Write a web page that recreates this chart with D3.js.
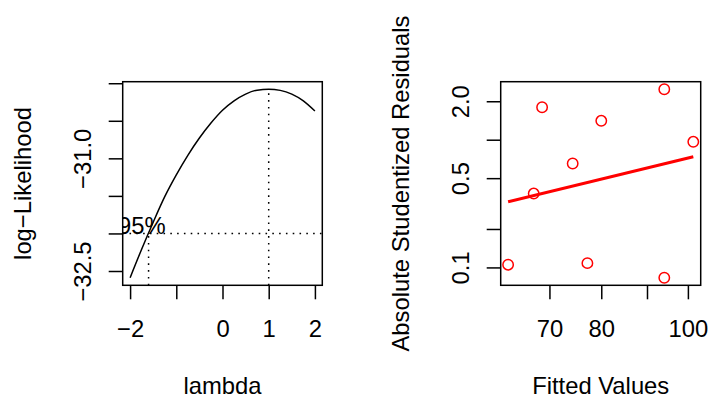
<!DOCTYPE html>
<html><head><meta charset="utf-8">
<script src="https://cdn.jsdelivr.net/npm/d3@7"></script>
<style>
body{margin:0;background:#fff;}
svg text{font-family:"Liberation Sans",Arial,Helvetica,sans-serif;font-size:23.8px;fill:#000;}
</style></head><body>
<svg id="chart" width="711" height="397"></svg>
<script>
// ---------- data: left panel (Box-Cox profile log-likelihood) ----------
const lambdas = [-2,-1.75,-1.5,-1.25,-1,-0.75,-0.5,-0.25,0,0.25,0.5,0.75,1,1.25,1.5,1.75,2];
const logLik  = [-32.59,-32.21,-31.85,-31.51,-31.22,-30.96,-30.73,-30.53,-30.36,-30.235,-30.145,-30.092,-30.08,-30.095,-30.145,-30.235,-30.37];
const lambdaHat = 1.0;
const ci95Lower = -1.6;
const lim95 = -32.0;
const lambdaTicks = [-2,-1,0,1,2];
const lambdaTickLabels = ["\u22122","","0","1","2"];
const logLikTicks = [-32.5,-32,-31.5,-31,-30.5,-30];
const logLikTickLabels = ["\u221232.5","","","\u221231.0","",""];

// ---------- data: right panel (spread-level plot) ----------
const fitted     = [62.93,67.22,68.69,74.32,77.19,80.0,94.1,94.1,101.4];
const absStudRes = [0.105,0.379,1.796,0.651,0.108,1.406,2.484,0.083,0.963];
const fitLineX = [62.93,101.4];
const fitLineY = [0.327,0.735];
const fittedTicks = [70,80,90,100];
const fittedTickLabels = ["70","80","","100"];
const residTicks = [0.1,0.2,0.5,1,2];
const residTickLabels = ["0.1","","0.5","","2.0"];

// ---------- layout ----------
const svg = d3.select("#chart");
const yTop = 81.7, yBot = 285.3;
const L = {x0:122.7, x1:322.3};
const R = {x0:500.7, x1:700.7};
const TICK = 14;

function pad(ext){const d=ext[1]-ext[0];return [ext[0]-0.04*d, ext[1]+0.04*d];}
function padLog(ext){const a=Math.log10(ext[0]),b=Math.log10(ext[1]),d=b-a;return [Math.pow(10,a-0.04*d),Math.pow(10,b+0.04*d)];}

// ---------- left panel ----------
const xL = d3.scaleLinear().domain(pad(d3.extent(lambdas))).range([L.x0,L.x1]);
const yL = d3.scaleLinear().domain(pad(d3.extent(logLik.concat([lim95])))).range([yBot,yTop]);

svg.append("defs").append("clipPath").attr("id","clipL")
  .append("rect").attr("x",L.x0).attr("y",yTop).attr("width",L.x1-L.x0).attr("height",yBot-yTop);

const gL = svg.append("g");
const line = d3.line().x((d,i)=>xL(lambdas[i])).y(d=>yL(d)).curve(d3.curveMonotoneX);
gL.append("path").datum(logLik).attr("d",line).attr("fill","none").attr("stroke","#000").attr("stroke-width",1.5);

const dots = "1.6 5.2";
gL.append("line").attr("x1",L.x0).attr("x2",L.x1).attr("y1",yL(lim95)).attr("y2",yL(lim95))
  .attr("stroke","#000").attr("stroke-width",1.5).attr("stroke-dasharray",dots);
gL.append("line").attr("x1",xL(lambdaHat)).attr("x2",xL(lambdaHat)).attr("y1",yBot).attr("y2",yL(d3.max(logLik)))
  .attr("stroke","#000").attr("stroke-width",1.5).attr("stroke-dasharray",dots);
gL.append("line").attr("x1",xL(ci95Lower)).attr("x2",xL(ci95Lower)).attr("y1",yBot).attr("y2",yL(lim95))
  .attr("stroke","#000").attr("stroke-width",1.5).attr("stroke-dasharray",dots);
gL.append("text").attr("clip-path","url(#clipL)").attr("x",xL(-2)+35.5).attr("y",yL(lim95)+0.5)
  .attr("text-anchor","end").text("95%");

function styleAxis(g){
  g.select(".domain").remove();
  g.selectAll(".tick line").attr("stroke","#000").attr("stroke-width",1.5);
  g.selectAll(".tick text").attr("font-size",null).attr("font-family",null).attr("fill","#000");
}
// left x axis
const axLx = svg.append("g").attr("transform",`translate(0,${yBot})`)
  .call(d3.axisBottom(xL).tickValues(lambdaTicks).tickSize(TICK).tickFormat((d,i)=>lambdaTickLabels[i]));
styleAxis(axLx);
axLx.selectAll(".tick text").attr("y",52.2).attr("dy",0);
// left y axis
const axLy = svg.append("g").attr("transform",`translate(${L.x0},0)`)
  .call(d3.axisLeft(yL).tickValues(logLikTicks).tickSize(TICK).tickFormat((d,i)=>logLikTickLabels[i]));
styleAxis(axLy);
axLy.selectAll(".tick text").attr("x",0).attr("dy",0).attr("text-anchor","middle")
  .attr("transform","translate(-31.5,0) rotate(-90)");
// box
svg.append("rect").attr("x",L.x0).attr("y",yTop).attr("width",L.x1-L.x0).attr("height",yBot-yTop)
  .attr("fill","none").attr("stroke","#000").attr("stroke-width",1.5);
// titles
svg.append("text").attr("x",(L.x0+L.x1)/2).attr("y",394).attr("text-anchor","middle").text("lambda");
svg.append("text").attr("transform",`translate(31,${(yTop+yBot)/2}) rotate(-90)`).attr("text-anchor","middle").text("log\u2212Likelihood");

// ---------- right panel ----------
const xR = d3.scaleLog().domain(padLog(d3.extent(fitted.concat(fitLineX)))).range([R.x0,R.x1]);
const yR = d3.scaleLog().domain(padLog(d3.extent(absStudRes))).range([yBot,yTop]);

const gR = svg.append("g");
gR.selectAll("circle").data(fitted).enter().append("circle")
  .attr("cx",d=>xR(d)).attr("cy",(d,i)=>yR(absStudRes[i])).attr("r",5.2)
  .attr("fill","none").attr("stroke","#ff0000").attr("stroke-width",1.5);
gR.append("line").attr("x1",xR(fitLineX[0])).attr("x2",xR(fitLineX[1]))
  .attr("y1",yR(fitLineY[0])).attr("y2",yR(fitLineY[1]))
  .attr("stroke","#ff0000").attr("stroke-width",3);

const axRx = svg.append("g").attr("transform",`translate(0,${yBot})`)
  .call(d3.axisBottom(xR).tickValues(fittedTicks).tickSize(TICK).tickFormat((d,i)=>fittedTickLabels[i]));
styleAxis(axRx);
axRx.selectAll(".tick text").attr("y",52.2).attr("dy",0);
const axRy = svg.append("g").attr("transform",`translate(${R.x0},0)`)
  .call(d3.axisLeft(yR).tickValues(residTicks).tickSize(TICK).tickFormat((d,i)=>residTickLabels[i]));
styleAxis(axRy);
axRy.selectAll(".tick text").attr("x",0).attr("dy",0).attr("text-anchor","middle")
  .attr("transform","translate(-31.5,0) rotate(-90)");
svg.append("rect").attr("x",R.x0).attr("y",yTop).attr("width",R.x1-R.x0).attr("height",yBot-yTop)
  .attr("fill","none").attr("stroke","#000").attr("stroke-width",1.5);
svg.append("text").attr("x",(R.x0+R.x1)/2).attr("y",394).attr("text-anchor","middle").text("Fitted Values");
svg.append("text").attr("transform",`translate(408.5,${(yTop+yBot)/2}) rotate(-90)`).attr("text-anchor","middle").text("Absolute Studentized Residuals");
</script></body></html>
